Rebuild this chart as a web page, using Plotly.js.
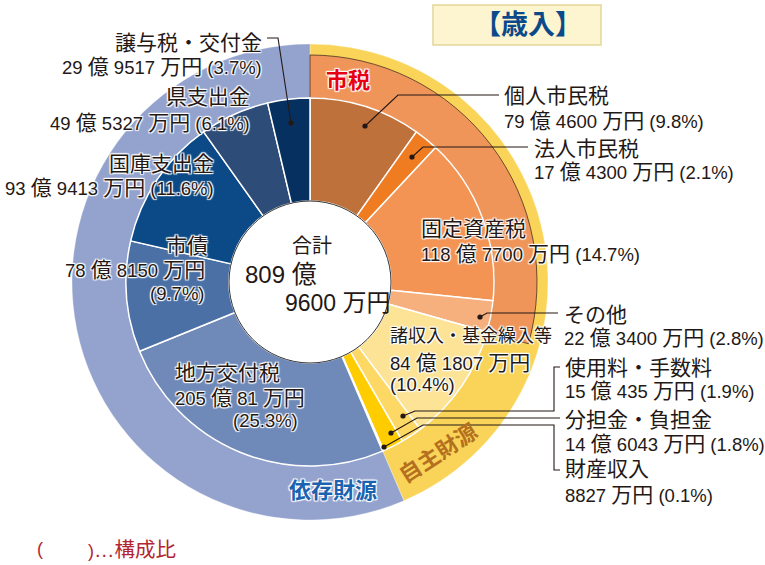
<!DOCTYPE html>
<html>
<head>
<meta charset="utf-8">
<script src="https://cdn.plot.ly/plotly-3.0.1.min.js"></script>
<style>html,body{margin:0;padding:0;background:#fff;}</style>
</head>
<body>
<div id="chart" style="width:765px;height:565px;"></div>
<script>
// ---- data ----
const categories = ['個人市民税','法人市民税','固定資産税','その他','諸収入・基金繰入等','使用料・手数料','分担金・負担金','財産収入','地方交付税','市債','国庫支出金','県支出金','譲与税・交付金'];
const amountsMan = [794600,174300,1187700,223400,841807,150435,146043,8827,2050081,788150,939413,495327,299517];
const amountLabels = ['79 億 4600 万円','17 億 4300 万円','118 億 7700 万円','22 億 3400 万円','84 億 1807 万円','15 億 435 万円','14 億 6043 万円','8827 万円','205 億 81 万円','78 億 8150 万円','93 億 9413 万円','49 億 5327 万円','29 億 9517 万円'];
const percents = ['9.8%','2.1%','14.7%','2.8%','10.4%','1.9%','1.8%','0.1%','25.3%','9.7%','11.6%','6.1%','3.7%'];
const groupNames = ['市税','自主財源','依存財源'];
const shizeiCount = 4;      // first 4 categories are 市税
const jishuCount = 8;       // first 8 categories are 自主財源
const totalLabel = ['合計','809 億','9600 万円'];
const titleText = '【歳入】';
const footnoteParts = ['(', ')…構成比'];

// ---- styles ----
const sliceColors = ['#BF713C','#F07C22','#F39455','#F6B07E','#FCE396','#FDD864','#FFCC00','#C9A347','#6F89B8','#4A70A6','#0B4A86','#2D4C78','#06305F'];
const W = 765, H = 565;
const CX = 310, CY = 282;
const FONT = 'Liberation Sans, Noto Sans CJK JP, sans-serif';
const HALO = '1px 1px 1px #fff, -1px -1px 1px #fff, 1px -1px 1px #fff, -1px 1px 1px #fff, 0px 0px 2px #fff';
const px = x => x / W;
const py = y => 1 - y / H;
function dom(r){ return {x:[px(CX-r), px(CX+r)], y:[py(CY+r), py(CY-r)]}; }
// enlarge CJK runs relative to latin text
const cjk = (s, size) => s.replace(/([\u3000-\u30ff\u3400-\u9fff\uff00-\uffef\u2026]+)/g, '<span style="font-size:' + size + 'px">$1</span>');

const sum = a => a.reduce((s,v)=>s+v,0);
const shizeiTotal = sum(amountsMan.slice(0, shizeiCount));
const jishuTotal = sum(amountsMan.slice(0, jishuCount));
const izonTotal = sum(amountsMan.slice(jishuCount));

const R_IN = 184, R_ORANGE = 227, R_OUT = 238, R_HOLE = 81;

const traces = [
  { type:'pie', values:[jishuTotal, izonTotal], labels:[groupNames[1], groupNames[2]], sort:false, direction:'clockwise', rotation:0,
    marker:{colors:['#F9D458','#94A3CE'], line:{color:'rgba(255,255,255,0.6)', width:0.5}}, textinfo:'none', hoverinfo:'none',
    hole: R_IN/R_OUT, domain: dom(R_OUT), showlegend:false },
  { type:'pie', values:[shizeiTotal, sum(amountsMan)-shizeiTotal], labels:[groupNames[0], ' '], sort:false, direction:'clockwise', rotation:0,
    marker:{colors:['#F0955A','rgba(0,0,0,0)'], line:{color:['#4a3020','rgba(0,0,0,0)'], width:[0.8,0]}}, textinfo:'none', hoverinfo:'none',
    hole: R_IN/R_ORANGE, domain: dom(R_ORANGE), showlegend:false },
  { type:'pie', values:amountsMan, labels:categories, sort:false, direction:'clockwise', rotation:0,
    marker:{colors:sliceColors, line:{color:'#ffffff', width:1.5}}, textinfo:'none', hoverinfo:'none',
    hole: R_HOLE/R_IN, domain: dom(R_IN), showlegend:false }
];

const shapes = [];
const annotations = [];
function poly(pts, color){
  let d = 'M ' + pts.map(p => px(p[0]) + ' ' + py(p[1])).join(' L ');
  shapes.push({type:'path', xref:'paper', yref:'paper', path:d, line:{color:color||'#231815', width:1.1}});
}
function dot(x,y){
  const r = 2.6;
  shapes.push({type:'circle', xref:'paper', yref:'paper', x0:px(x-r), x1:px(x+r), y0:py(y+r), y1:py(y-r), fillcolor:'#231815', line:{width:0}});
}
function txt(text, x, y, xanchor, opts){
  opts = opts || {};
  const size = opts.size || 18.5;
  const cjkSize = opts.cjk || 21;
  annotations.push({
    text: opts.raw ? text : cjk(text, cjkSize), xref:'paper', yref:'paper', x:px(x), y:py(y), xanchor:xanchor, yanchor:'middle', showarrow:false,
    font:Object.assign({family:FONT, size:size, color:opts.color||'#231815'}, opts.halo?{shadow:HALO}:{}, opts.weight?{weight:opts.weight}:{}),
    textangle: opts.angle||0
  });
}

// hole border
shapes.push({type:'circle', xref:'paper', yref:'paper', x0:px(CX-R_HOLE), x1:px(CX+R_HOLE), y0:py(CY+R_HOLE), y1:py(CY-R_HOLE), fillcolor:'#ffffff', line:{color:'#333', width:1}});

// title box
shapes.push({type:'rect', xref:'paper', yref:'paper', x0:px(433), x1:px(601), y0:py(45), y1:py(5), fillcolor:'#FCF5CF', line:{color:'#E3D69A', width:1.5}});
txt(titleText, 528, 25, 'center', {size:27, color:'#0B4A8A', weight:'bold', raw:true});

// center total
txt(totalLabel[0], 312, 246, 'center', {size:20, raw:true});
txt(totalLabel[1], 243, 274, 'left', {size:24, cjk:25});
txt(totalLabel[2], 283, 302, 'left', {size:23, cjk:24});

// group labels
txt(groupNames[0], 348, 81, 'center', {size:22, color:'#E60012', weight:'bold', halo:true, raw:true});
txt(groupNames[1], 438, 453, 'center', {size:22, color:'#B5701F', weight:'bold', angle:-33, raw:true});
txt(groupNames[2], 333, 490, 'center', {size:22, color:'#1B63B0', weight:'bold', halo:true, raw:true});

const amtPct = i => amountLabels[i] + ' (' + percents[i] + ')';
// right side labels
txt(categories[0], 502, 95, 'left'); txt(amtPct(0), 502, 120, 'left');
txt(categories[1], 532, 148, 'left'); txt(amtPct(1), 532, 172, 'left');
txt(categories[2], 419, 228, 'left', {halo:true}); txt(amtPct(2), 419, 253, 'left', {halo:true});
txt(categories[3], 562, 314, 'left'); txt(amtPct(3), 562, 337, 'left');
txt(categories[4], 388, 336, 'left', {halo:true, size:17.5, cjk:18}); txt(amountLabels[4], 388, 362, 'left', {halo:true}); txt('(' + percents[4] + ')', 388, 385, 'left', {halo:true});
txt(categories[5], 563, 367, 'left'); txt(amtPct(5), 563, 390, 'left');
txt(categories[6], 563, 419, 'left'); txt(amtPct(6), 563, 443, 'left');
txt(categories[7], 563, 468, 'left'); txt(amtPct(7), 563, 494, 'left');
// left side labels
txt(categories[8], 173, 372, 'left', {halo:true}); txt(amountLabels[8], 173, 397, 'left', {halo:true}); txt('(' + percents[8] + ')', 300, 420, 'right', {halo:true});
txt(categories[9], 187, 245, 'center', {halo:true}); txt(amountLabels[9], 207, 269, 'right', {halo:true}); txt('(' + percents[9] + ')', 207, 293, 'right', {halo:true});
txt(categories[10], 216, 163, 'right', {halo:true}); txt(amtPct(10), 216, 188, 'right', {halo:true});
txt(categories[11], 252, 97, 'right', {halo:true}); txt(amtPct(11), 252, 123, 'right', {halo:true});
txt(categories[12], 264, 43, 'right', {halo:true}); txt(amtPct(12), 264, 67, 'right', {halo:true});

// leader lines
poly([[365,126],[398,95],[499,95]]); dot(365,126);
poly([[412,157],[423,147],[528,147]]); dot(412,157);
poly([[480,317],[487,313],[558,313]]); dot(480,317);
poly([[403,416],[415,411],[554,411],[554,367],[560,367]]); dot(403,416);
poly([[391,433],[417,418],[560,418]]); dot(391,433);
poly([[384,447],[423,425],[554,425],[554,470],[560,470]]); dot(384,447);
poly([[267,38],[278,38],[291,123]]); dot(291,123);

// footnote
txt(footnoteParts[0], 40, 549, 'center', {size:18, color:'#B5252F', raw:true});
txt(footnoteParts[1], 86, 549, 'left', {size:18, color:'#B5252F', cjk:20.5});

const layout = {
  width:W, height:H, margin:{l:0,r:0,t:0,b:0}, paper_bgcolor:'#ffffff', plot_bgcolor:'#ffffff',
  showlegend:false, shapes:shapes, annotations:annotations
};
Plotly.newPlot('chart', traces, layout, {displayModeBar:false, staticPlot:true});
</script>
</body>
</html>
